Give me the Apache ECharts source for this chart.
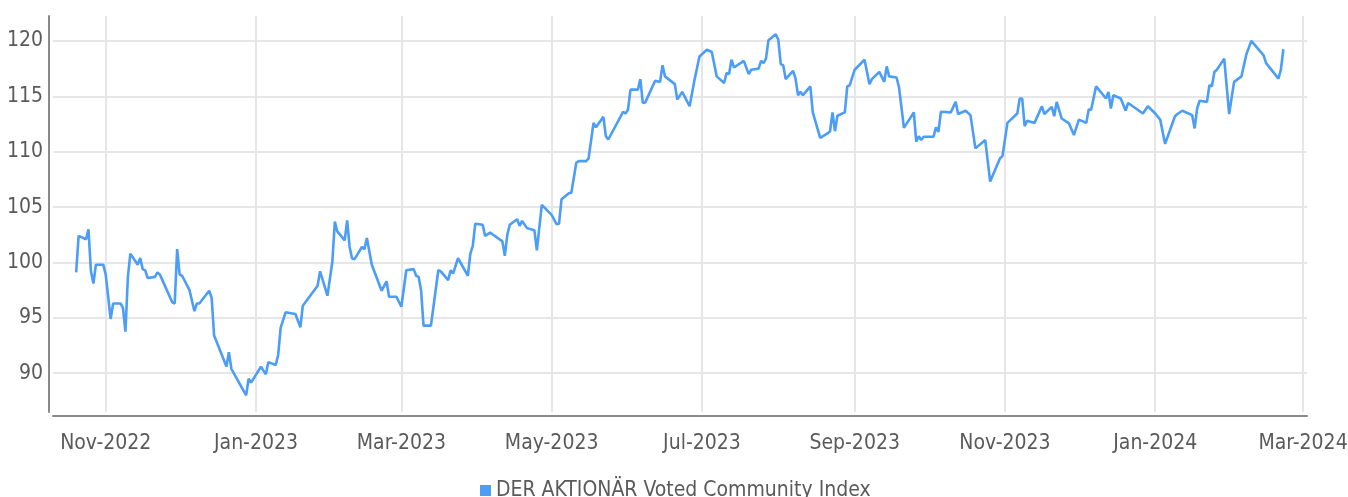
<!DOCTYPE html>
<html>
<head>
<meta charset="utf-8">
<title>DER AKTIONÄR Voted Community Index</title>
<script src="https://cdn.jsdelivr.net/npm/echarts@6/dist/echarts.min.js"></script>
<style>
  html, body { margin: 0; padding: 0; background: #fff; }
  #chart { width: 1348px; height: 497px; }
</style>
</head>
<body>
<div id="chart"></div>
<script>
const seriesName = 'DER AKTIONÄR Voted Community Index'

// index values
const dates = [
  '2022-10-20', '2022-10-21', '2022-10-24', '2022-10-25', '2022-10-26', '2022-10-27', '2022-10-28', '2022-10-31',
  '2022-11-01', '2022-11-03', '2022-11-04', '2022-11-07', '2022-11-08', '2022-11-09', '2022-11-10', '2022-11-11', '2022-11-14', '2022-11-15', '2022-11-16', '2022-11-17', '2022-11-18', '2022-11-21', '2022-11-22', '2022-11-23', '2022-11-28', '2022-11-29', '2022-11-30',
  '2022-12-01', '2022-12-02', '2022-12-05', '2022-12-07', '2022-12-08', '2022-12-09', '2022-12-13', '2022-12-14', '2022-12-15', '2022-12-20', '2022-12-21', '2022-12-22', '2022-12-28', '2022-12-29', '2022-12-30',
  '2023-01-03', '2023-01-05', '2023-01-06', '2023-01-09', '2023-01-10', '2023-01-11', '2023-01-13', '2023-01-17', '2023-01-19', '2023-01-20', '2023-01-26', '2023-01-27', '2023-01-30',
  '2023-02-01', '2023-02-02', '2023-02-03', '2023-02-06', '2023-02-07', '2023-02-08', '2023-02-09', '2023-02-10', '2023-02-13', '2023-02-14', '2023-02-15', '2023-02-17', '2023-02-21', '2023-02-23', '2023-02-24', '2023-02-27',
  '2023-03-01', '2023-03-03', '2023-03-06', '2023-03-07', '2023-03-08', '2023-03-09', '2023-03-10', '2023-03-13', '2023-03-16', '2023-03-17', '2023-03-20', '2023-03-21', '2023-03-22', '2023-03-24', '2023-03-28', '2023-03-29', '2023-03-30', '2023-03-31',
  '2023-04-03', '2023-04-04', '2023-04-06', '2023-04-11', '2023-04-12', '2023-04-13', '2023-04-14', '2023-04-17', '2023-04-18', '2023-04-19', '2023-04-21', '2023-04-24', '2023-04-25', '2023-04-27',
  '2023-05-01', '2023-05-03', '2023-05-04', '2023-05-05', '2023-05-08', '2023-05-09', '2023-05-11', '2023-05-12', '2023-05-15', '2023-05-16', '2023-05-18', '2023-05-19', '2023-05-22', '2023-05-23', '2023-05-24', '2023-05-30', '2023-05-31',
  '2023-06-01', '2023-06-02', '2023-06-05', '2023-06-06', '2023-06-07', '2023-06-08', '2023-06-12', '2023-06-14', '2023-06-15', '2023-06-16', '2023-06-20', '2023-06-21', '2023-06-23', '2023-06-26', '2023-06-28', '2023-06-30',
  '2023-07-03', '2023-07-05', '2023-07-07', '2023-07-10', '2023-07-11', '2023-07-12', '2023-07-13', '2023-07-14', '2023-07-18', '2023-07-20', '2023-07-21', '2023-07-24', '2023-07-25', '2023-07-26', '2023-07-27', '2023-07-28', '2023-07-31',
  '2023-08-01', '2023-08-02', '2023-08-03', '2023-08-04', '2023-08-07', '2023-08-08', '2023-08-09', '2023-08-10', '2023-08-11', '2023-08-14', '2023-08-15', '2023-08-18', '2023-08-21', '2023-08-22', '2023-08-23', '2023-08-24', '2023-08-25', '2023-08-28', '2023-08-29', '2023-08-30',
  '2023-09-01', '2023-09-05', '2023-09-07', '2023-09-08', '2023-09-11', '2023-09-13', '2023-09-14', '2023-09-15', '2023-09-18', '2023-09-19', '2023-09-21', '2023-09-25', '2023-09-26', '2023-09-27', '2023-09-28', '2023-09-29',
  '2023-10-03', '2023-10-04', '2023-10-05', '2023-10-06', '2023-10-10', '2023-10-12', '2023-10-13', '2023-10-16', '2023-10-18', '2023-10-20', '2023-10-24', '2023-10-26', '2023-10-30', '2023-10-31',
  '2023-11-02', '2023-11-06', '2023-11-07', '2023-11-08', '2023-11-09', '2023-11-10', '2023-11-13', '2023-11-16', '2023-11-17', '2023-11-20', '2023-11-21', '2023-11-22', '2023-11-24', '2023-11-27', '2023-11-29',
  '2023-12-01', '2023-12-04', '2023-12-05', '2023-12-06', '2023-12-08', '2023-12-12', '2023-12-13', '2023-12-14', '2023-12-15', '2023-12-18', '2023-12-20', '2023-12-21', '2023-12-27', '2023-12-29',
  '2024-01-01', '2024-01-03', '2024-01-05', '2024-01-09', '2024-01-10', '2024-01-12', '2024-01-16', '2024-01-17', '2024-01-18', '2024-01-19', '2024-01-22', '2024-01-23', '2024-01-24', '2024-01-25', '2024-01-26', '2024-01-29', '2024-01-31',
  '2024-02-02', '2024-02-05', '2024-02-06', '2024-02-07', '2024-02-09', '2024-02-14', '2024-02-15', '2024-02-20', '2024-02-21', '2024-02-22'
]
const values = [
  99.1, 102.4, 102.1, 103.0, 99.2, 98.1, 99.8, 99.8,
  98.9, 94.9, 96.3, 96.3, 95.9, 93.75, 98.7, 100.8, 99.8, 100.4, 99.4, 99.3, 98.6, 98.7, 99.1, 98.9, 96.4, 96.3, 101.2,
  98.9, 98.8, 97.5, 95.6, 96.3, 96.3, 97.45, 96.8, 93.4, 90.6, 91.9, 90.4, 88.0, 89.5, 89.15,
  90.6, 89.9, 91.0, 90.75, 91.65, 94.1, 95.5, 95.35, 94.15, 96.1, 97.9, 99.2, 97.0,
  100.1, 103.7, 102.8, 102.0, 103.8, 101.4, 100.35, 100.3, 101.4, 101.2, 102.2, 99.8, 97.45, 98.3, 96.9, 96.9,
  96.0, 99.3, 99.4, 98.8, 98.7, 97.5, 94.3, 94.3, 99.3, 99.2, 98.4, 99.3, 99.0, 100.4, 98.8, 100.8, 101.5, 103.5,
  103.4, 102.4, 102.7, 101.9, 100.6, 102.5, 103.4, 103.9, 103.3, 103.75, 103.1, 102.9, 101.1, 105.2,
  104.3, 103.45, 103.5, 105.7, 106.25, 106.3, 109.0, 109.15, 109.15, 109.4, 112.6, 112.2, 113.15, 111.4, 111.1, 113.6, 113.45,
  113.8, 115.6, 115.6, 116.55, 114.4, 114.45, 116.4, 116.3, 117.8, 116.8, 116.1, 114.7, 115.4, 114.1, 116.5, 118.6,
  119.2, 119.0, 116.8, 116.2, 117.1, 117.0, 118.3, 117.6, 118.2, 117.0, 117.4, 117.5, 118.2, 118.0, 118.4, 120.05, 120.6,
  120.1, 117.9, 117.8, 116.55, 117.3, 116.6, 115.1, 115.4, 115.1, 115.9, 113.55, 111.25, 111.65, 111.85, 113.55, 111.85, 113.25, 113.55, 115.9, 116.0,
  117.4, 118.3, 116.1, 116.55, 117.2, 116.3, 117.7, 116.8, 116.7, 115.8, 112.15, 113.55, 110.9, 111.4, 111.05, 111.35,
  111.35, 112.2, 111.8, 113.6, 113.55, 114.5, 113.4, 113.7, 113.3, 110.3, 111.05, 107.3, 109.4, 109.6,
  112.6, 113.45, 114.8, 114.8, 112.3, 112.8, 112.6, 114.1, 113.4, 114.05, 113.2, 114.5, 113.0, 112.55, 111.5,
  112.9, 112.6, 113.8, 113.8, 115.9, 114.8, 115.4, 113.9, 115.1, 114.8, 113.7, 114.4, 113.45, 114.1,
  113.45, 112.9, 110.7, 113.2, 113.4, 113.7, 113.3, 112.1, 113.9, 114.6, 114.5, 116.0, 115.9, 117.2, 117.4, 118.4, 113.4,
  116.3, 116.8, 117.8, 118.8, 120.0, 118.7, 118.0, 116.6, 117.4, 119.25
]

// axis ticks
const monthTicks = ['2022-11-01', '2023-01-01', '2023-03-01', '2023-05-01', '2023-07-01', '2023-09-01', '2023-11-01', '2024-01-01', '2024-03-01']
const yTicks = [90, 95, 100, 105, 110, 115, 120]

const DAY = 86400000
const monthNames = ['Jan', 'Feb', 'Mar', 'Apr', 'May', 'Jun', 'Jul', 'Aug', 'Sep', 'Oct', 'Nov', 'Dec']
const font = "'DejaVu Sans Condensed', 'Liberation Sans Narrow', sans-serif"
const textColor = '#5a5a5a'
const lineColor = '#4b9df6'

const seriesData = dates.map((d, i) => [Date.parse(d), values[i]])
const xTickValues = monthTicks.map(d => Date.parse(d))

const chart = echarts.init(document.getElementById('chart'))
chart.setOption({
  animation: false,
  grid: { left: 53, right: 41, top: 16, bottom: 85, outerBoundsMode: 'none' },
  legend: {
    data: [{ name: seriesName, icon: 'rect' }],
    left: 475,
    top: 475,
    itemWidth: 11,
    itemHeight: 11,
    itemGap: 5,
    textStyle: { fontFamily: font, fontSize: 21, color: textColor }
  },
  xAxis: {
    type: 'value',
    min: Date.parse('2022-11-01') - 21.4 * DAY,
    max: Date.parse('2024-03-01') + 1.6 * DAY,
    offset: 4,
    axisLine: { lineStyle: { color: '#8a8a8a', width: 2 } },
    axisTick: { show: false, customValues: xTickValues },
    axisLabel: {
      customValues: xTickValues,
      margin: 17,
      fontFamily: font,
      fontSize: 21,
      color: textColor,
      formatter: v => {
        const dt = new Date(v)
        return monthNames[dt.getUTCMonth()] + '-' + dt.getUTCFullYear()
      }
    },
    splitLine: { show: true, lineStyle: { color: '#e6e6e6', width: 2 } }
  },
  yAxis: {
    type: 'value',
    min: 86.5,
    max: 122.25,
    offset: 4,
    axisLine: { show: true, lineStyle: { color: '#8a8a8a', width: 2 } },
    axisTick: { show: false, customValues: yTicks },
    axisLabel: {
      customValues: yTicks,
      margin: 6,
      fontFamily: font,
      fontSize: 21,
      color: textColor
    },
    splitLine: { show: true, lineStyle: { color: '#e6e6e6', width: 2 } }
  },
  series: [
    {
      name: seriesName,
      type: 'line',
      data: seriesData,
      showSymbol: false,
      color: lineColor,
      lineStyle: { width: 2.6, color: lineColor }
    }
  ]
})
</script>
</body>
</html>
